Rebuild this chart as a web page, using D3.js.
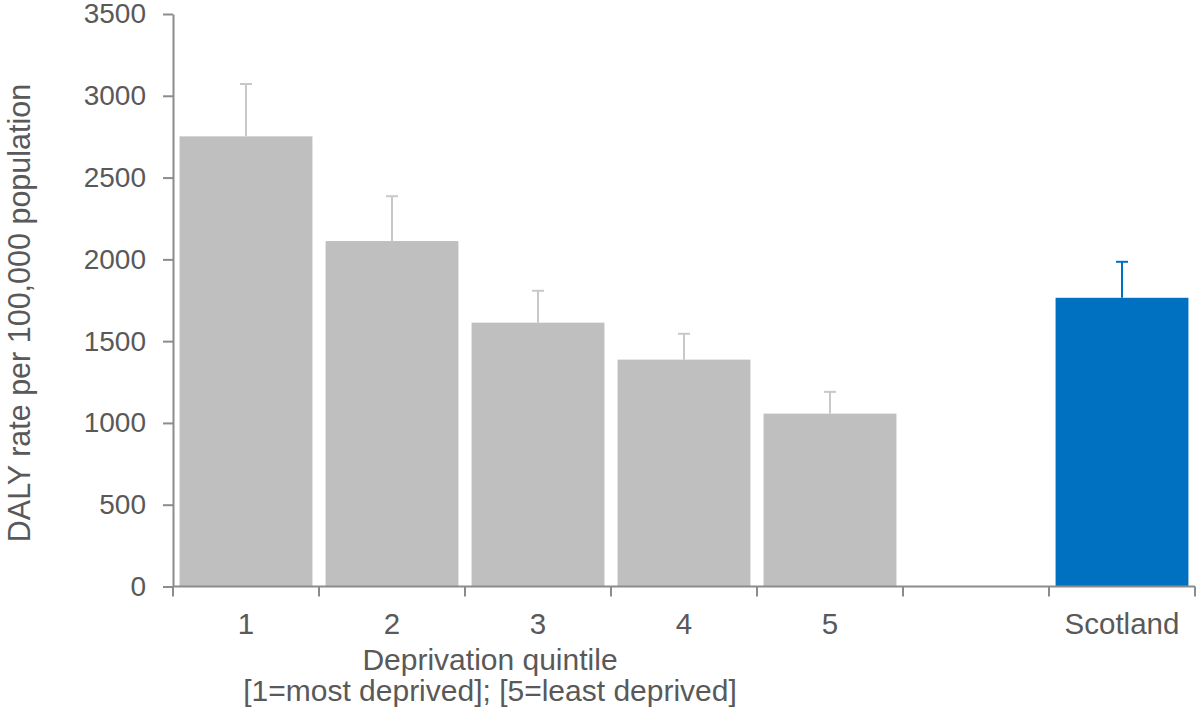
<!DOCTYPE html>
<html>
<head>
<meta charset="utf-8">
<script src="https://cdn.jsdelivr.net/npm/d3@7"></script>
<style>
  html, body { margin: 0; padding: 0; background: #fff; }
  svg { display: block; }
</style>
</head>
<body>
<div id="chart"></div>
<script>
// Data
const categories = ["1", "2", "3", "4", "5", "", "Scotland"];
const rates = [2752, 2112, 1613, 1387, 1057, null, 1765];
const upperCI = [3072, 2386, 1808, 1545, 1190, null, 1985];
const yTicks = [0, 500, 1000, 1500, 2000, 2500, 3000, 3500];
const xTitleLines = ["Deprivation quintile", "[1=most deprived]; [5=least deprived]"];
const yTitle = "DALY rate per 100,000 population";

const attrs = {
    svgWidth: 1200,
    svgHeight: 712,
    plotLeft: 173,
    plotRight: 1195,
    plotTop: 14,
    plotBottom: 586.5,
    font: "'Liberation Sans', Arial, Helvetica, sans-serif",
    textFill: "#595959",
    axisColor: "#8c8c8c",
    barGrey: "#bfbfbf",
    errGrey: "#c8c8c8",
    barBlue: "#0070c0"
};

const svg = d3.select("#chart")
    .append("svg")
    .attr("width", attrs.svgWidth)
    .attr("height", attrs.svgHeight)
    .attr("font-family", attrs.font);

const x = d3.scaleBand()
    .domain(categories)
    .range([attrs.plotLeft, attrs.plotRight])
    .paddingInner(0.09)
    .paddingOuter(0.045);

const y = d3.scaleLinear()
    .domain([0, 3500])
    .range([attrs.plotBottom, attrs.plotTop]);

const data = categories.map((c, i) => ({ cat: c, value: rates[i], upper: upperCI[i], blue: c === "Scotland" }))
    .filter(d => d.value != null);

// bars
svg.append("g")
    .selectAll("rect")
    .data(data)
    .join("rect")
    .attr("x", d => x(d.cat))
    .attr("width", x.bandwidth())
    .attr("y", d => y(d.value))
    .attr("height", d => y(0) - y(d.value))
    .attr("fill", d => d.blue ? attrs.barBlue : attrs.barGrey);

// error bars (upper only)
const err = svg.append("g")
    .selectAll("g")
    .data(data)
    .join("g")
    .attr("stroke", d => d.blue ? attrs.barBlue : attrs.errGrey)
    .attr("stroke-width", 2);

err.append("line")
    .attr("x1", d => x(d.cat) + x.bandwidth() / 2)
    .attr("x2", d => x(d.cat) + x.bandwidth() / 2)
    .attr("y1", d => y(d.value))
    .attr("y2", d => y(d.upper));

err.append("line")
    .attr("x1", d => x(d.cat) + x.bandwidth() / 2 - 6)
    .attr("x2", d => x(d.cat) + x.bandwidth() / 2 + 6)
    .attr("y1", d => y(d.upper))
    .attr("y2", d => y(d.upper));

// y axis
const yAxis = svg.append("g")
    .attr("transform", `translate(${attrs.plotLeft},0)`)
    .call(d3.axisLeft(y).tickValues(yTicks).tickFormat(d3.format("d"))
        .tickSize(10).tickPadding(17).tickSizeOuter(0));
yAxis.select(".domain").attr("stroke", attrs.axisColor).attr("stroke-width", 2);
yAxis.selectAll(".tick line").attr("stroke", attrs.axisColor).attr("stroke-width", 2);
yAxis.selectAll(".tick text")
    .attr("fill", attrs.textFill)
    .attr("font-size", 28)
    .attr("font-family", attrs.font);

// x axis: line and boundary ticks (Excel style, ticks between categories)
const xg = svg.append("g");
xg.append("line")
    .attr("x1", attrs.plotLeft)
    .attr("x2", attrs.plotRight)
    .attr("y1", y(0))
    .attr("y2", y(0))
    .attr("stroke", attrs.axisColor)
    .attr("stroke-width", 2);

const boundaries = d3.range(categories.length + 1).map(i => attrs.plotLeft + i * x.step());
xg.selectAll(".xtick")
    .data(boundaries)
    .join("line")
    .attr("class", "xtick")
    .attr("x1", d => d)
    .attr("x2", d => d)
    .attr("y1", y(0))
    .attr("y2", y(0) + 10)
    .attr("stroke", attrs.axisColor)
    .attr("stroke-width", 2);

xg.selectAll(".xlabel")
    .data(categories)
    .join("text")
    .attr("class", "xlabel")
    .attr("x", d => x(d) + x.bandwidth() / 2)
    .attr("y", 634)
    .attr("text-anchor", "middle")
    .attr("font-size", 29.5)
    .attr("fill", attrs.textFill)
    .text(d => d);

// x title
svg.append("g")
    .selectAll("text")
    .data(xTitleLines)
    .join("text")
    .attr("x", 490)
    .attr("y", (d, i) => 670 + i * 31)
    .attr("text-anchor", "middle")
    .attr("font-size", 30)
    .attr("fill", attrs.textFill)
    .text(d => d);

// y title
svg.append("text")
    .attr("transform", "translate(30,313) rotate(-90)")
    .attr("text-anchor", "middle")
    .attr("font-size", 30.5)
    .attr("fill", attrs.textFill)
    .text(yTitle);
</script>
</body>
</html>
